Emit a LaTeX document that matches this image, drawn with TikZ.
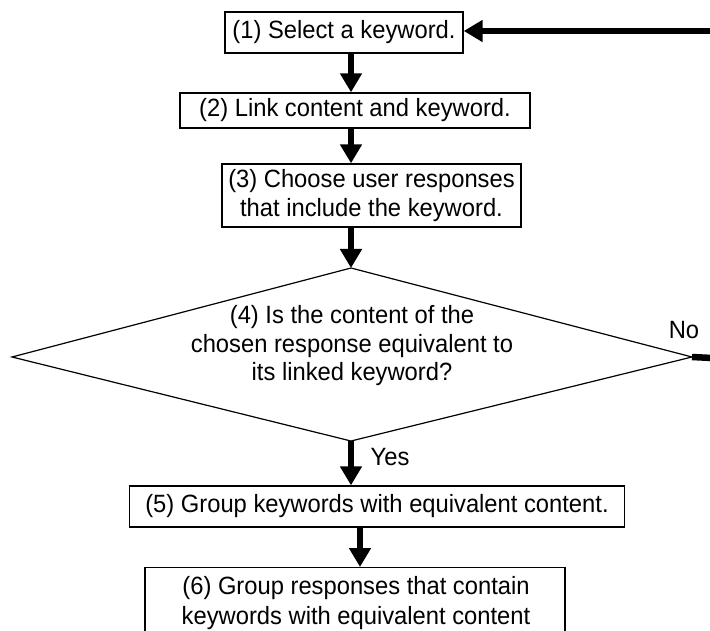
\documentclass[tikz,border=0pt]{standalone}
\usepackage{fontspec}
\setmainfont{Liberation Sans}[FakeStretch=0.95]
\usetikzlibrary{arrows.meta}
\begin{document}
\begin{tikzpicture}[x=1pt,y=-1pt,
  box/.style={draw, line width=1.4pt, inner sep=0pt, align=center, font=\fontsize{25}{29.5}\selectfont},
  lbl/.style={inner sep=0pt, font=\fontsize{25}{29.5}\selectfont},
  arr/.style={line width=6.5pt, -{Triangle[width=21pt,length=19pt]}},
  fatline/.style={line width=6.5pt}]
\useasboundingbox (0,0) rectangle (710,631);
\clip (0,0) rectangle (710,631);
% boxes
\node[box, minimum width=238pt, minimum height=41pt] (b1) at (344,32.5) {(1) Select a keyword.};
\node[box, minimum width=350pt, minimum height=35pt] (b2) at (355,110.5) {(2) Link content and keyword.};
\node[box, minimum width=299pt, minimum height=63pt] (b3) at (371.5,195.5) {(3) Choose user responses\\that include the keyword.};
% diamond
\coordinate (dtop) at (351,268);
\coordinate (dright) at (692,357);
\coordinate (dbot) at (351,441);
\coordinate (dleft) at (12,357);
\draw[line width=1.2pt] (dtop) -- (dright) -- (dbot) -- (dleft) -- cycle;
\node[lbl, align=center, font=\fontsize{25}{28.5}\selectfont] (dtext) at (352,346) {(4) Is the content of the\\chosen response equivalent to\\its linked keyword?};
\node[box, minimum width=495pt, minimum height=41pt] (b5) at (377,506.5) {(5) Group keywords with equivalent content.};
\node[box, minimum width=420pt, minimum height=120pt, anchor=north] (b6) at (355,567) {};
\node[lbl, align=center] (b6text) at (356,603) {(6) Group responses that contain\\keywords with equivalent content};
% labels
\node[lbl] (yes) at (390,457) {Yes};
\node[lbl] (no) at (684,330) {No};
% arrows
\coordinate (topR) at (712,31);
\coordinate (noR) at (712,358);
\coordinate (a56) at (360,0);
\draw[arr] (topR) -- (b1.east |- topR);
\draw[arr] (b1.south -| dtop) -- (b2.north -| dtop);
\draw[arr] (b2.south -| dtop) -- (b3.north -| dtop);
\draw[arr] (b3.south -| dtop) -- (dtop);
\draw[arr] (dbot) -- (b5.north -| dbot);
\draw[arr] (b5.south -| a56) -- (b6.north -| a56);
\draw[fatline] (dright) -- (noR);
\end{tikzpicture}
\end{document}
